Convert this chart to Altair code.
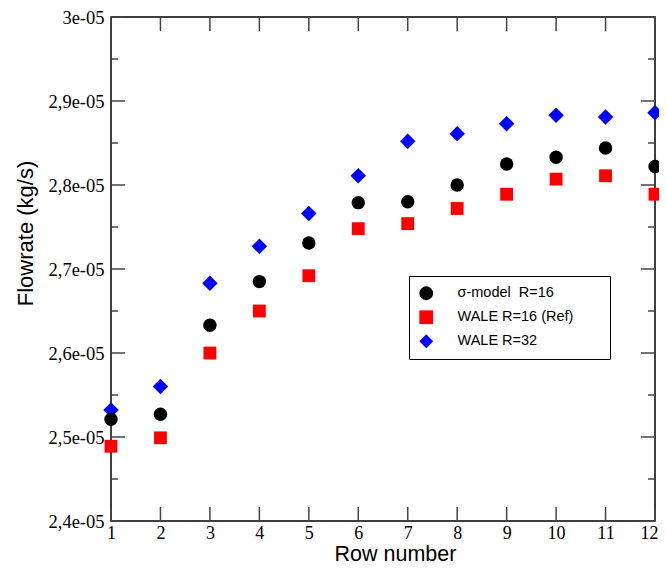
import altair as alt
import pandas as pd

# ---------------- data ----------------
rows = [1, 2, 3, 4, 5, 6, 7, 8, 9, 10, 11, 12]
sigma_r16 = [2.521e-5, 2.527e-5, 2.633e-5, 2.685e-5, 2.731e-5, 2.779e-5,
             2.780e-5, 2.800e-5, 2.825e-5, 2.833e-5, 2.844e-5, 2.822e-5]
wale_r16 = [2.489e-5, 2.499e-5, 2.600e-5, 2.650e-5, 2.692e-5, 2.748e-5,
            2.754e-5, 2.772e-5, 2.789e-5, 2.807e-5, 2.811e-5, 2.789e-5]
wale_r32 = [2.532e-5, 2.560e-5, 2.683e-5, 2.727e-5, 2.766e-5, 2.811e-5,
            2.852e-5, 2.861e-5, 2.873e-5, 2.883e-5, 2.881e-5, 2.886e-5]

series_names = ["\u03c3-model\u00a0 R=16", "WALE R=16 (Ref)", "WALE R=32"]
series_colors = ["#000000", "#ff0000", "#0000ff"]
series_shapes = ["circle", "square", "diamond"]
series_sizes = [180, 165, 240]

x_ticks = [1, 2, 3, 4, 5, 6, 7, 8, 9, 10, 11, 12]
y_major = [2.4e-5, 2.5e-5, 2.6e-5, 2.7e-5, 2.8e-5, 2.9e-5, 3.0e-5]
y_minor = [2.45e-5, 2.55e-5, 2.65e-5, 2.75e-5, 2.85e-5, 2.95e-5]
y_labels = ["2,4e-05", "2,5e-05", "2,6e-05", "2,7e-05", "2,8e-05", "2,9e-05", "3e-05"]

records = []
for name, vals in zip(series_names, [sigma_r16, wale_r16, wale_r32]):
    for r, v in zip(rows, vals):
        records.append({"row": r, "value": v, "series": name})
df = pd.DataFrame(records)
xt_df = pd.DataFrame({"t": x_ticks})
ymaj_df = pd.DataFrame({"t": y_major})
ymin_df = pd.DataFrame({"t": y_minor})

W, H = 544, 504
MAJ, MIN = 14, 7
TICK_COLOR = "#444444"
xs = alt.Scale(domain=[1, 12], nice=False, zero=False)
ys = alt.Scale(domain=[2.4e-5, 3.0e-5], nice=False, zero=False)

label_list = "[" + ",".join("'%s'" % s for s in y_labels) + "]"
y_label_expr = label_list + "[round(datum.value*1e6) - 24]"

# invisible right-hand title only widens the legend box, as in the reference
legend = alt.Legend(
    title="MM", titleOrient="right", titleOpacity=0, titleFontSize=14, titlePadding=3,
    titleFont="Liberation Sans",
    orient="none", legendX=298, legendY=259, padding=10,
    strokeColor="black", fillColor="white",
    labelFont="Liberation Sans", labelFontSize=14.5, labelColor="black",
    symbolSize=190, symbolStrokeWidth=0, rowPadding=8, labelOffset=24,
)
color_enc = alt.Color("series:N", scale=alt.Scale(domain=series_names, range=series_colors), legend=legend)
shape_enc = alt.Shape("series:N", scale=alt.Scale(domain=series_names, range=series_shapes), legend=legend)

base = alt.Chart(df)

# labelled axes layer (invisible marks)
lab_layer = base.mark_point(opacity=0).encode(
    x=alt.X("row:Q", scale=xs, axis=alt.Axis(
        orient="bottom", values=x_ticks, ticks=False, domain=False, grid=False,
        labelFont="Liberation Serif", labelFontSize=18, labelColor="black",
        labelPadding=17, labelBaseline="alphabetic", labelFlush=False, labelOverlap=False,
        labelOffset={"condition": {"test": "datum.value == 12", "value": -6}, "value": 0},
        title="Row number", titleFont="Liberation Sans", titleFontSize=21.5,
        titleFontWeight="normal", titleColor="black", titleX=284, titleY=39,
        titleBaseline="alphabetic", titleAlign="center")),
    y=alt.Y("value:Q", scale=ys, axis=alt.Axis(
        orient="left", values=y_major, labelExpr=y_label_expr, ticks=False, domain=False,
        grid=False, labelFont="Liberation Serif", labelFontSize=18.5, labelColor="black",
        labelPadding=7, labelFlush=False, labelOverlap=False,
        title="Flowrate (kg/s)", titleFont="Liberation Sans", titleFontSize=22,
        titleFontWeight="normal", titleColor="black", titleX=-79, titleY=216,
        titleAngle=270, titleBaseline="alphabetic", titleAlign="center")),
)


def xtick(y0, y1):
    return alt.Chart(xt_df).mark_rule(color=TICK_COLOR, strokeWidth=1.5).encode(
        x=alt.X("t:Q", scale=xs, axis=None), y=alt.value(y0), y2=alt.value(y1))


def ytick(d, x0, x1):
    return alt.Chart(d).mark_rule(color=TICK_COLOR, strokeWidth=1.5).encode(
        y=alt.Y("t:Q", scale=ys, axis=None), x=alt.value(x0), x2=alt.value(x1))


ticks = [
    xtick(H, H - MAJ), xtick(0, MAJ),
    ytick(ymaj_df, 0, MAJ), ytick(ymaj_df, W, W - MAJ),
    ytick(ymin_df, 0, MIN), ytick(ymin_df, W, W - MIN),
]


def pts(idx):
    return base.transform_filter(alt.datum.series == series_names[idx]).mark_point(
        filled=True, opacity=1, size=series_sizes[idx], strokeWidth=0
    ).encode(
        x=alt.X("row:Q", scale=xs, axis=None),
        y=alt.Y("value:Q", scale=ys, axis=None),
        color=color_enc,
        shape=shape_enc,
    )


chart = alt.layer(
    lab_layer, *ticks, pts(2), pts(1), pts(0)
).resolve_axis(x="independent", y="independent").properties(
    width=W, height=H,
    autosize=alt.AutoSizeParams(type="none"),
    padding={"left": 103, "top": 9, "right": 4, "bottom": 44},
    background="white",
).configure_view(stroke="black", strokeWidth=1.5)

chart.save("out.html", embed_options={"renderer": "svg", "actions": False})
